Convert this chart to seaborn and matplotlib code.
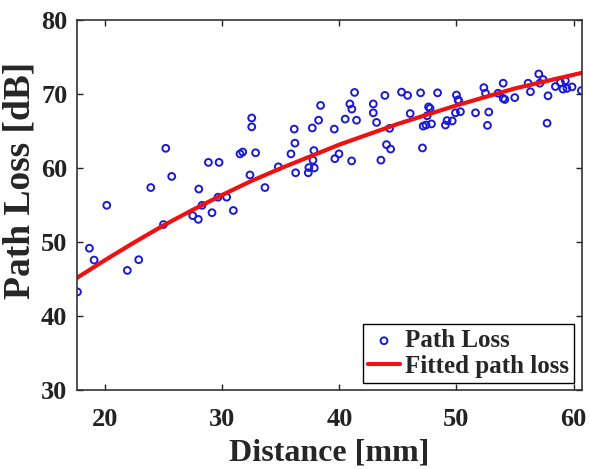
import matplotlib
matplotlib.use("Agg")
import matplotlib.pyplot as plt
import seaborn as sns

distance = [17.64, 18.66, 19.06, 20.14, 21.90, 22.87, 23.90, 24.98, 25.18, 25.69,
            27.48, 27.96, 28.00, 28.28, 28.82, 29.13, 29.64, 29.73, 30.38, 30.95,
            31.52, 31.75, 32.37, 32.52, 32.52, 32.85, 33.65, 34.79, 35.87, 36.15,
            36.21, 36.27, 37.35, 37.40, 37.86, 37.75, 37.83, 37.69, 38.23, 38.40,
            39.57, 39.62, 39.97, 40.50, 40.90, 41.07, 41.05, 41.30, 41.47, 42.90,
            42.90, 43.18, 43.55, 43.89, 44.03, 44.29, 44.38, 45.31, 45.83, 46.05,
            46.94, 47.10, 47.16, 47.40, 47.87, 47.50, 47.62, 47.75, 48.39, 49.06,
            49.20, 49.64, 49.92, 50.34, 50.00, 50.14, 50.20, 51.63, 52.34, 52.48,
            52.76, 52.65, 53.56, 53.99, 53.99, 54.13, 54.98, 56.12, 56.32, 57.03,
            57.12, 57.40, 57.74, 57.82, 58.45, 58.88, 59.30, 59.10, 59.44, 59.87,
            60.67]
path_loss = [43.3, 49.2, 47.6, 55.0, 46.2, 47.65, 57.4, 52.4, 62.7, 58.9,
             53.6, 53.1, 57.2, 55.0, 60.8, 54.0, 56.1, 60.8, 56.1, 54.3,
             61.95, 62.2, 59.1, 66.8, 65.6, 62.1, 57.4, 60.2, 61.95, 65.3,
             63.4, 59.4, 59.4, 60.1, 60.05, 61.1, 62.4, 65.45, 66.5, 68.5,
             65.3, 61.3, 61.95, 66.65, 68.7, 68.0, 61.0, 70.25, 66.5, 68.7,
             67.5, 66.2, 61.1, 69.85, 63.2, 65.4, 62.6, 70.3, 69.85, 67.4,
             70.2, 62.75, 65.7, 65.85, 66.0, 67.1, 68.3, 68.1, 70.2, 65.85,
             66.45, 66.4, 67.5, 67.65, 69.9, 69.25, 69.1, 67.5, 70.9, 70.15,
             67.6, 65.8, 70.15, 71.5, 69.45, 69.3, 69.55, 71.5, 70.35, 72.75,
             71.5, 72.0, 66.1, 69.8, 71.05, 71.6, 71.85, 70.7, 70.8, 71.0,
             70.5]

# fitted curve
fit_distance = [17.6, 20, 22.5, 25, 27.5, 30, 32.5, 35, 37.5, 40, 45, 50, 55, 60.7]
fit_loss = [45.2, 47.6, 50.0, 52.3, 54.4, 56.4, 58.3, 60.0, 61.6, 63.2, 66.0, 68.5, 70.8, 72.9]

sns.set_theme(style="ticks")
plt.rcParams['font.family'] = ['Liberation Serif', 'DejaVu Serif']
plt.rcParams['font.weight'] = 'bold'
plt.rcParams['axes.labelweight'] = 'bold'

fig, ax = plt.subplots(figsize=(5.9, 4.69), dpi=100)
fig.subplots_adjust(left=0.1305, right=0.986, top=0.9567, bottom=0.1678)

sns.scatterplot(x=distance, y=path_loss, ax=ax, marker='o', s=24,
                facecolors='none', edgecolor='#1a1ad6', linewidth=1.4,
                label='Path Loss')
sns.lineplot(x=fit_distance, y=fit_loss, ax=ax, color='#ee1111', linewidth=3,
             label='Fitted path loss')

ax.set_xlim(17.6, 60.7)
ax.set_ylim(30, 80)
ax.set_xticks([20, 30, 40, 50, 60])
ax.set_yticks([30, 40, 50, 60, 70, 80])
ax.set_xlabel('Distance [mm]', fontsize=23, labelpad=5)
ax.set_ylabel('Path Loss [dB]', fontsize=27)
ax.yaxis.set_label_coords(-0.079, 0.568)

ax.tick_params(direction='in', top=True, right=True, length=4, width=1,
               labelsize=19, colors='#222222')
ax.tick_params(axis='x', pad=13)
ax.tick_params(axis='y', pad=7)
for sp in ax.spines.values():
    sp.set_color('#333333')
    sp.set_linewidth(1.2)

leg = ax.legend(loc='lower right', frameon=True, fancybox=False, edgecolor='black',
                framealpha=1, fontsize=18, handlelength=1.3, handletextpad=0.2,
                labelspacing=0.1, borderpad=0.2, borderaxespad=0.3)
leg.get_frame().set_linewidth(1.0)

fig.savefig('out.png', dpi=100)
